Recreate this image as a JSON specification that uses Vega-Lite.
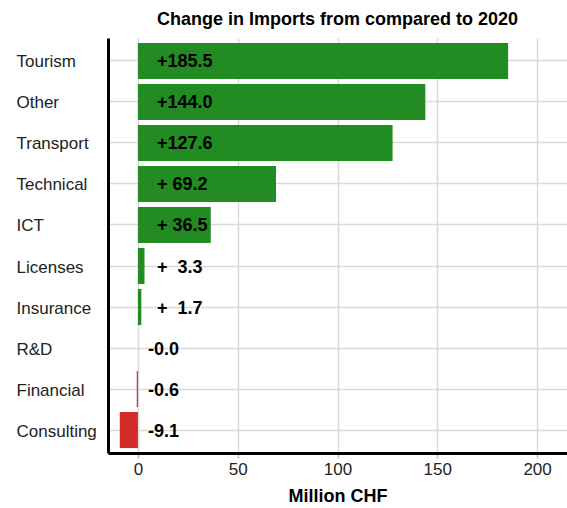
{
  "$schema": "https://vega.github.io/schema/vega-lite/v6.json",
  "autosize": "none",
  "width": 459,
  "height": 415,
  "padding": {"left": 108, "top": 38, "right": 0, "bottom": 55},
  "background": "white",
  "title": {"text": "Change in Imports from compared to 2020", "font": "Liberation Sans", "fontSize": 18, "fontWeight": "bold", "color": "#000000", "anchor": "middle", "offset": 9},
  "config": {"view": {"stroke": null}, "font": "Liberation Sans"},
  "data": {"values": [
    {"category": "Tourism", "value": 185.5, "label": "+185.5"},
    {"category": "Other", "value": 144.0, "label": "+144.0"},
    {"category": "Transport", "value": 127.6, "label": "+127.6"},
    {"category": "Technical", "value": 69.2, "label": "+\u00a069.2"},
    {"category": "ICT", "value": 36.5, "label": "+\u00a036.5"},
    {"category": "Licenses", "value": 3.3, "label": "+\u00a0\u00a03.3"},
    {"category": "Insurance", "value": 1.7, "label": "+\u00a0\u00a01.7"},
    {"category": "R&D", "value": -0.01, "label": "-0.0"},
    {"category": "Financial", "value": -0.6, "label": "-0.6"},
    {"category": "Consulting", "value": -9.1, "label": "-9.1"}
  ]},
  "encoding": {
    "y": {"field": "category", "type": "nominal", "sort": null,
      "scale": {"paddingInner": 0.12, "paddingOuter": 0.12},
      "axis": {"title": null, "bandPosition": 0.5, "ticks": false, "labelAlign": "left", "labelPadding": 92, "labelOffset": 1.5,
        "labelFontSize": 17, "labelColor": "#222222", "labelFont": "Liberation Sans",
        "domainColor": "#000000", "domainWidth": 3, "grid": true, "gridColor": "#d9d9d9", "gridWidth": 1.5}}
  },
  "layer": [
    {
      "mark": {"type": "bar"},
      "encoding": {
        "x": {"field": "value", "type": "quantitative",
          "scale": {"domain": [-15, 215], "nice": false, "zero": false},
          "axis": {"title": "Million CHF", "titleFontSize": 18, "titleFontWeight": "bold", "titleColor": "#000000", "titlePadding": 10,
            "values": [0, 50, 100, 150, 200], "labelFontSize": 17, "labelColor": "#222222", "labelPadding": 3,
            "tickSize": 5, "tickColor": "#bbbbbb", "tickWidth": 1.5,
            "domainColor": "#000000", "domainWidth": 3, "grid": true, "gridColor": "#d9d9d9", "gridWidth": 1.5}},
        "color": {"condition": {"test": "datum.value >= 0", "value": "#228b22"}, "value": "#d42a2a"}
      }
    },
    {
      "transform": [{"filter": "datum.value >= 0"}],
      "mark": {"type": "text", "align": "left", "baseline": "middle", "dy": 1.5, "fontSize": 18, "fontWeight": "bold", "color": "#000000", "font": "Liberation Sans"},
      "encoding": {"x": {"datum": 9.5, "type": "quantitative"}, "text": {"field": "label"}}
    },
    {
      "transform": [{"filter": "datum.value < 0"}],
      "mark": {"type": "text", "align": "left", "baseline": "middle", "dy": 1.5, "fontSize": 18, "fontWeight": "bold", "color": "#000000", "font": "Liberation Sans"},
      "encoding": {"x": {"datum": 5, "type": "quantitative"}, "text": {"field": "label"}}
    }
  ]
}
